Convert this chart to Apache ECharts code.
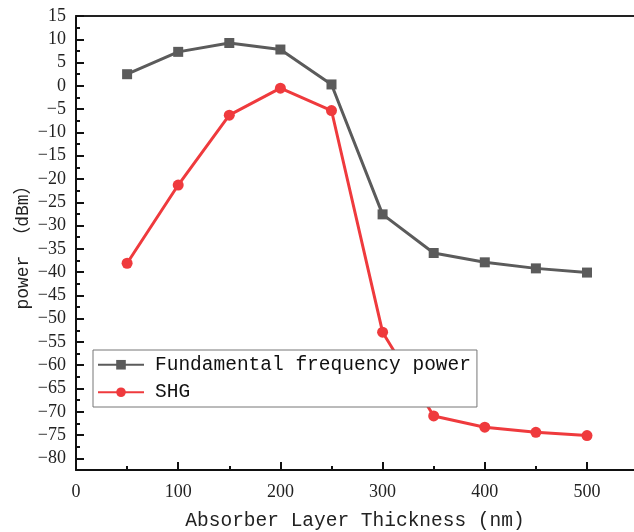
<!DOCTYPE html>
<html>
<head>
<meta charset="utf-8">
<script src="https://cdn.jsdelivr.net/npm/echarts@6/dist/echarts.min.js"></script>
<style>html,body{margin:0;padding:0;background:#fff;}#c{width:634px;height:532px;}</style>
</head>
<body>
<div id="c"></div>
<script>
const thickness = [50, 100, 150, 200, 250, 300, 350, 400, 450, 500];
const fundamentalPower = [2.5, 7.3, 9.2, 7.8, 0.3, -27.6, -35.9, -37.9, -39.2, -40.1];
const shgPower = [-38.1, -21.3, -6.3, -0.5, -5.3, -52.9, -70.9, -73.3, -74.4, -75.1];
const xMajorTicks = [0, 100, 200, 300, 400, 500];
const xMinorTicks = [50, 150, 250, 350, 450];
const yMajorTicks = [-80, -75, -70, -65, -60, -55, -50, -45, -40, -35, -30, -25, -20, -15, -10, -5, 0, 5, 10, 15];
const yMinorTicks = [-77.5, -72.5, -67.5, -62.5, -57.5, -52.5, -47.5, -42.5, -37.5, -32.5, -27.5, -22.5, -17.5, -12.5, -7.5, -2.5, 2.5, 7.5, 12.5];

const mono = 'Liberation Mono, Noto Sans CJK SC, monospace';
const serif = 'Liberation Serif, serif';
const X_MIN = 0, X_MAX = 546, Y_MIN = -82.5, Y_MAX = 15;

const chart = echarts.init(document.getElementById('c'));
chart.setOption({
  animation: false,
  backgroundColor: '#fff',
  grid: { left: 76, top: 16, right: 0, bottom: 62, containLabel: false, outerBoundsMode: 'none' },
  legend: {
    orient: 'vertical',
    left: 93, top: 350,
    padding: [5, 6, 5, 4],
    itemWidth: 46, itemHeight: 12, itemGap: 8,
    borderColor: '#777', borderWidth: 1,
    backgroundColor: '#fff',
    textStyle: { fontFamily: mono, fontSize: 19.5, color: '#111', padding: [0, 0, 0, 6] },
    data: ['Fundamental frequency power', 'SHG']
  },
  xAxis: [
    {
      type: 'value', min: X_MIN, max: X_MAX, position: 'bottom',
      name: 'Absorber Layer Thickness (nm)', nameLocation: 'middle', nameGap: 41, nameMoveOverlap: false,
      nameTextStyle: { fontFamily: mono, fontSize: 19.5, color: '#222' },
      axisLine: { show: true, onZero: false, lineStyle: { color: '#111', width: 2 } },
      axisTick: { show: true, inside: true, length: 8, lineStyle: { color: '#111', width: 2 }, customValues: xMajorTicks },
      axisLabel: { margin: 13, fontFamily: serif, fontSize: 18, color: '#222', customValues: xMajorTicks },
      splitLine: { show: false }
    },
    {
      type: 'value', min: X_MIN, max: X_MAX, position: 'bottom',
      axisLine: { show: false, onZero: false },
      axisTick: { show: true, inside: true, length: 4, lineStyle: { color: '#111', width: 2 }, customValues: xMinorTicks },
      axisLabel: { show: false },
      splitLine: { show: false }
    },
    {
      type: 'value', min: X_MIN, max: X_MAX, position: 'top',
      axisLine: { show: true, onZero: false, lineStyle: { color: '#222', width: 2 } },
      axisTick: { show: false }, axisLabel: { show: false }, splitLine: { show: false }
    }
  ],
  yAxis: [
    {
      type: 'value', min: Y_MIN, max: Y_MAX, position: 'left',
      name: 'power （dBm）', nameLocation: 'middle', nameGap: 44, nameRotate: 90, nameMoveOverlap: false,
      nameTextStyle: { fontFamily: mono, fontSize: 18, color: '#222' },
      axisLine: { show: true, onZero: false, lineStyle: { color: '#111', width: 2 } },
      axisTick: { show: true, inside: true, length: 8, lineStyle: { color: '#111', width: 2 }, customValues: yMajorTicks },
      axisLabel: { margin: 10, fontFamily: serif, fontSize: 18, color: '#222', customValues: yMajorTicks,
        formatter: v => (v < 0 ? '\u2212' + Math.abs(v) : String(v)) },
      splitLine: { show: false }
    },
    {
      type: 'value', min: Y_MIN, max: Y_MAX, position: 'left',
      axisLine: { show: false, onZero: false },
      axisTick: { show: true, inside: true, length: 4, lineStyle: { color: '#111', width: 2 }, customValues: yMinorTicks },
      axisLabel: { show: false },
      splitLine: { show: false }
    }
  ],
  series: [
    {
      name: 'Fundamental frequency power', type: 'line', xAxisIndex: 0, yAxisIndex: 0,
      data: thickness.map((x, i) => [x, fundamentalPower[i]]),
      symbol: 'rect', symbolSize: 10,
      lineStyle: { color: '#5b5b5b', width: 3 },
      itemStyle: { color: '#5b5b5b' }
    },
    {
      name: 'SHG', type: 'line', xAxisIndex: 0, yAxisIndex: 0,
      data: thickness.map((x, i) => [x, shgPower[i]]),
      symbol: 'circle', symbolSize: 11,
      lineStyle: { color: '#ef3a3d', width: 3 },
      itemStyle: { color: '#ef3a3d' }
    }
  ]
});
</script>
</body>
</html>
